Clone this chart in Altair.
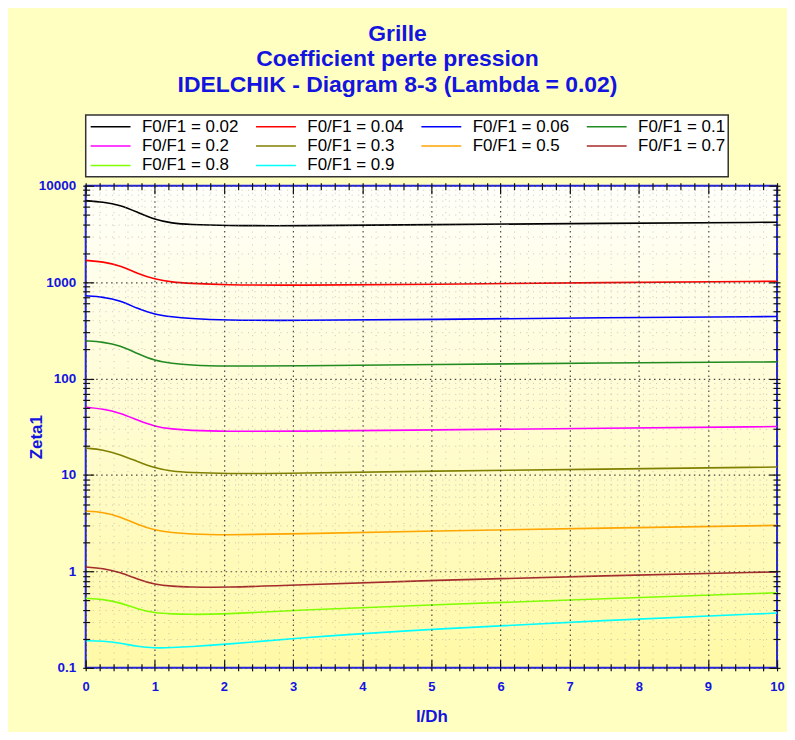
import altair as alt
import pandas as pd

# ---- data ----
L_DH = [0, 0.25, 0.5, 0.75, 1, 1.25, 1.5, 2, 3, 5, 7.5, 10]

SERIES = ["F0/F1 = 0.02", "F0/F1 = 0.04", "F0/F1 = 0.06", "F0/F1 = 0.1",
          "F0/F1 = 0.2", "F0/F1 = 0.3", "F0/F1 = 0.5", "F0/F1 = 0.7",
          "F0/F1 = 0.8", "F0/F1 = 0.9"]

Z_002 = [7000, 6800, 6300, 5300, 4450, 4080, 3960, 3860, 3830, 3950, 4070, 4180]
Z_004 = [1680, 1630, 1480, 1230, 1070, 1000, 973, 934, 927, 948, 990, 1020]
Z_006 = [720, 702, 645, 530, 461, 436, 420, 403, 400, 410, 428, 440]
Z_01 = [246, 240, 220, 181, 153, 144, 138, 134, 135, 140, 145, 149]
Z_02 = [50.5, 48.5, 44.0, 37.0, 31.8, 29.9, 29.0, 28.3, 28.3, 29.4, 30.5, 31.8]
Z_03 = [19.0, 18.3, 16.3, 13.8, 11.8, 10.9, 10.6, 10.3, 10.4, 11.0, 11.5, 12.1]
Z_05 = [4.22, 4.12, 3.70, 3.05, 2.67, 2.52, 2.44, 2.38, 2.45, 2.62, 2.82, 3.0]
Z_07 = [1.11, 1.08, 0.98, 0.83, 0.73, 0.70, 0.69, 0.68, 0.72, 0.81, 0.90, 0.99]
Z_08 = [0.525, 0.516, 0.475, 0.405, 0.37, 0.362, 0.358, 0.36, 0.395, 0.45, 0.52, 0.60]
Z_09 = [0.191, 0.19, 0.181, 0.166, 0.160, 0.162, 0.166, 0.174, 0.203, 0.253, 0.31, 0.37]

COLORS = ["#000000", "#FF0000", "#0000FF", "#228B22", "#FF00FF",
          "#808000", "#FFA500", "#A52A2A", "#80FF00", "#00FFFF"]

X_MAJOR = list(range(0, 11))
X_MINOR = [round(i * 0.2, 1) for i in range(51) if i % 5 != 0]
Y_MAJOR = [0.1, 1, 10, 100, 1000, 10000]
Y_MINOR = [m * 10.0 ** k for k in range(-1, 4) for m in range(2, 10)]

TITLE = ["Grille", "Coefficient perte pression",
         "IDELCHIK - Diagram 8-3 (Lambda = 0.02)"]

# ---- table ----
rows = []
for name, vals in zip(SERIES, [Z_002, Z_004, Z_006, Z_01, Z_02, Z_03,
                               Z_05, Z_07, Z_08, Z_09]):
    for l, z in zip(L_DH, vals):
        rows.append({"l": l, "zeta": z, "serie": name})
df = pd.DataFrame(rows)

W, H = 694, 484
BLUE = "#1414E0"
FONT = "Liberation Sans"

xs = alt.Scale(domain=[0, 10], nice=False, zero=False)
ys = alt.Scale(type="log", domain=[0.1, 10000], nice=False)

bg = alt.Chart(pd.DataFrame({"a": [0]})).mark_rect(
    color=alt.Gradient(gradient="linear", x1=0, x2=0, y1=0, y2=1,
                       stops=[alt.GradientStop(offset=0, color="#FFFFFA"),
                              alt.GradientStop(offset=1, color="#FFF9A6")]),
    stroke="#2222E8", strokeWidth=2,
).encode(x=alt.value(0), x2=alt.value(W), y=alt.value(0), y2=alt.value(H))


def axis_layer(xaxis, yaxis):
    return alt.Chart(df).mark_point(opacity=0).encode(
        x=alt.X("l:Q", scale=xs, axis=xaxis),
        y=alt.Y("zeta:Q", scale=ys, axis=yaxis),
    )


def tick_axis(orient, values, offset, size):
    return alt.Axis(orient=orient, values=values, offset=offset, tickSize=size,
                    tickColor="#111111", tickWidth=1.2, labels=False,
                    domain=False, grid=False, title=None, zindex=1)


minor_grid = axis_layer(
    alt.Axis(orient="bottom", values=X_MINOR, grid=True, gridColor="#9A9A9A",
             gridDash=[1, 5.5], gridWidth=1, gridOpacity=0.55, ticks=False,
             labels=False, domain=False, title=None, zindex=1),
    alt.Axis(orient="left", values=Y_MINOR, grid=True, gridColor="#9A9A9A",
             gridDash=[1, 5.5], gridWidth=1, gridOpacity=0.55, ticks=False,
             labels=False, domain=False, title=None, zindex=1),
)

ticks_major = axis_layer(tick_axis("bottom", X_MAJOR, -8, 11),
                         tick_axis("left", Y_MAJOR, -8, 11))
ticks_minor = axis_layer(tick_axis("bottom", X_MINOR, -4, 7),
                         tick_axis("left", Y_MINOR, -4, 7))
ticks_major2 = axis_layer(tick_axis("top", X_MAJOR, -8, 11),
                          tick_axis("right", Y_MAJOR, -8, 11))
ticks_minor2 = axis_layer(tick_axis("top", X_MINOR, -4, 7),
                          tick_axis("right", Y_MINOR, -4, 7))

lines = alt.Chart(df).mark_line(strokeWidth=1.6, interpolate="basis").encode(
    x=alt.X("l:Q", scale=xs, axis=alt.Axis(
        orient="bottom", values=X_MAJOR, grid=True, gridColor="#4A4A4A",
        gridDash=[1.5, 3.5], gridWidth=1.2, ticks=False, tickSize=0,
        domain=False, format="d", labelFlush=False, labelOverlap=False,
        labelColor=BLUE, labelFont=FONT, labelFontSize=13,
        labelFontWeight="bold", labelPadding=13,
        title="l/Dh", titleColor=BLUE, titleFont=FONT, titleFontSize=17,
        titleFontWeight="bold", titlePadding=15, zindex=1)),
    y=alt.Y("zeta:Q", scale=ys, axis=alt.Axis(
        orient="left", values=Y_MAJOR, grid=True, gridColor="#4A4A4A",
        gridDash=[1.5, 3.5], gridWidth=1.2, ticks=False, tickSize=0,
        domain=False, format="~g", labelOverlap=False, labelFlush=False,
        labelColor=BLUE, labelFont=FONT, labelFontSize=13.5,
        labelFontWeight="bold", labelPadding=10,
        title="Zeta1", titleColor=BLUE, titleFont=FONT, titleFontSize=17,
        titleFontWeight="bold", titleAngle=270, titleX=-49, titleY=252,
        titleAlign="center", titleBaseline="middle", zindex=1)),
    color=alt.Color("serie:N", sort=SERIES,
                    scale=alt.Scale(domain=SERIES, range=COLORS),
                    legend=alt.Legend(
                        orient="none", legendX=0, legendY=-71, columns=4,
                        direction="horizontal", title=None,
                        symbolType="M-8,0H8", symbolSize=25,
                        symbolStrokeWidth=1.5, symbolOffset=13.5,
                        labelOffset=23, labelFont=FONT, labelFontSize=17,
                        labelColor="#000000", padding=3, rowPadding=1.6,
                        columnPadding=14, gridAlign="all",
                        fillColor="#FFFFFF", strokeColor="#333333")),
)

chart = alt.layer(
    bg, minor_grid, ticks_minor, ticks_major, ticks_minor2, ticks_major2, lines
).resolve_axis(x="independent", y="independent").properties(
    width=W, height=H,
    autosize=alt.AutoSizeParams(type="none"),
    padding={"left": 78, "top": 177, "right": 10, "bottom": 63},
    title=alt.TitleParams(text=TITLE, font=FONT, fontSize=23,
                          fontWeight="bold", color=BLUE, anchor="middle",
                          frame="group", dx=-34, offset=17, lineHeight=26),
).configure(background="#FFFFC2").configure_view(stroke=None).configure_legend(
    strokeWidth=1.5)

chart.save("out.html", embed_options={"renderer": "svg", "actions": False})
